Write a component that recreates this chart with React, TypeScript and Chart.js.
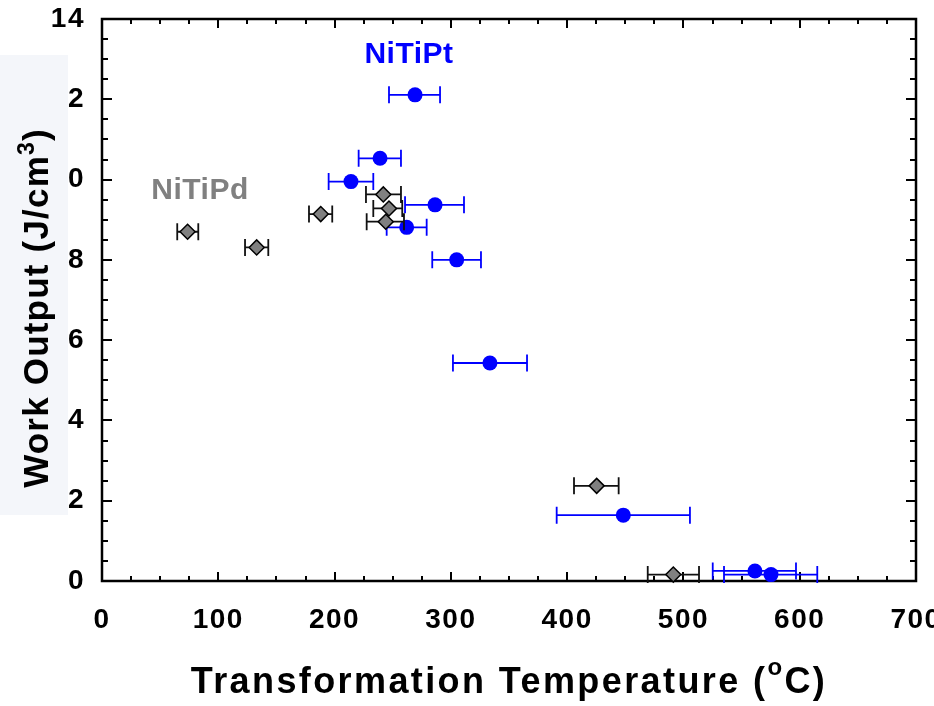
import React, { useEffect, useRef } from "react";
import { Chart, registerables } from "chart.js";

Chart.register(...registerables);

// ---------- data ----------
const ptTemp = [269.2, 239.1, 214.1, 286.4, 262.0, 305.0, 333.6, 448.3, 561.5, 575.3];
const ptWork = [12.11, 10.53, 9.95, 9.37, 8.81, 8.0, 5.43, 1.64, 0.25, 0.16];
const ptTempLow = [246.8, 220.7, 194.9, 260.6, 244.8, 284.0, 301.8, 391.0, 525.2, 534.9];
const ptTempHigh = [290.7, 257.1, 233.3, 311.3, 279.2, 325.9, 365.5, 505.6, 596.8, 615.1];

const pdTemp = [73.6, 133.0, 188.1, 241.9, 246.8, 244.0, 425.4, 491.3];
const pdWork = [8.7, 8.31, 9.14, 9.63, 9.28, 8.95, 2.37, 0.16];
const pdTempLow = [64.7, 123.0, 178.0, 227.0, 233.3, 227.6, 405.9, 469.3];
const pdTempHigh = [82.8, 143.0, 198.0, 257.1, 258.2, 259.7, 444.3, 513.4];

const xTickValues = [0, 100, 200, 300, 400, 500, 600, 700];
const yTickValues = [0, 2, 4, 6, 8, 10, 12, 14];
const yTickLabels = ["0", "2", "4", "6", "8", "0", "2", "14"];
const xMinorStep = 25;
const yMinorStep = 0.5;

const seriesNames = ["NiTiPd", "NiTiPt"];
const seriesLabelX = [84.3, 264.0];
const seriesLabelY = [9.51, 12.9];

const xTitleMain = "Transformation Temperature (";
const xTitleSup = "o";
const xTitleEnd = "C)";
const yTitleMain = "Work Output (J/cm";
const yTitleSup = "3";
const yTitleEnd = ")";

// ---------- style ----------
const FONT = '"Liberation Sans", Arial, Helvetica, sans-serif';
const BLUE = "#0000ff";
const GRAY = "#808080";

type Seg = { text: string; size: number; rise: number };

function segWidth(ctx: CanvasRenderingContext2D, segs: Seg[], spacing: number) {
  let w = 0;
  for (const s of segs) {
    ctx.font = `bold ${s.size}px ${FONT}`;
    (ctx as any).letterSpacing = spacing + "px";
    w += ctx.measureText(s.text).width;
  }
  return w;
}

function drawSegs(ctx: CanvasRenderingContext2D, segs: Seg[], spacing: number, x: number, y: number) {
  let cx = x;
  for (const s of segs) {
    ctx.font = `bold ${s.size}px ${FONT}`;
    (ctx as any).letterSpacing = spacing + "px";
    ctx.fillText(s.text, cx, y - s.rise);
    cx += ctx.measureText(s.text).width;
  }
}

const errLow = [pdTempLow, ptTempLow];
const errHigh = [pdTempHigh, ptTempHigh];
const errColor = ["#111111", BLUE];
const errWidth = [1.8, 1.8];
const capHalf = [8.5, 8.5];

const decorPlugin = {
  id: "decor",
  beforeDraw(chart: any) {
    const ctx = chart.ctx as CanvasRenderingContext2D;
    ctx.save();
    ctx.fillStyle = "#ffffff";
    ctx.fillRect(0, 0, chart.width, chart.height);
    // pale patch behind the y title
    ctx.fillStyle = "#f4f6fa";
    ctx.fillRect(0, 55, 68, 460);
    ctx.restore();
    (ctx as any).letterSpacing = "1.5px";
  },
  beforeDatasetsDraw(chart: any) {
    const ctx = chart.ctx as CanvasRenderingContext2D;
    const xs = chart.scales.x;
    const ys = chart.scales.y;
    const { left, right, top, bottom } = chart.chartArea;
    ctx.save();
    ctx.strokeStyle = "#000";
    ctx.lineWidth = 2;
    ctx.lineCap = "butt";
    ctx.beginPath();
    for (let v = xs.min; v <= xs.max + 1e-9; v += xMinorStep) {
      const px = Math.round(xs.getPixelForValue(v));
      const len = v % 100 === 0 ? 9 : 5;
      ctx.moveTo(px, bottom);
      ctx.lineTo(px, bottom - len);
      ctx.moveTo(px, top);
      ctx.lineTo(px, top + len);
    }
    for (let v = ys.min; v <= ys.max + 1e-9; v += yMinorStep) {
      const py = Math.round(ys.getPixelForValue(v));
      const len = Math.abs(v % 2) < 1e-9 ? 10 : 6;
      ctx.moveTo(left, py);
      ctx.lineTo(left + len, py);
      ctx.moveTo(right, py);
      ctx.lineTo(right - len, py);
    }
    ctx.stroke();
    ctx.lineWidth = 2.5;
    ctx.strokeRect(left, top, right - left, bottom - top);
    ctx.restore();
  },
  beforeDatasetDraw(chart: any, args: any) {
    const i = args.index;
    const ctx = chart.ctx as CanvasRenderingContext2D;
    const xs = chart.scales.x;
    const ys = chart.scales.y;
    const ds = chart.data.datasets[i];
    ctx.save();
    ctx.strokeStyle = errColor[i];
    ctx.lineWidth = errWidth[i];
    ctx.beginPath();
    ds.data.forEach((p: any, k: number) => {
      const py = ys.getPixelForValue(p.y);
      const x1 = xs.getPixelForValue(errLow[i][k]);
      const x2 = xs.getPixelForValue(errHigh[i][k]);
      ctx.moveTo(x1, py);
      ctx.lineTo(x2, py);
      ctx.moveTo(x1, py - capHalf[i]);
      ctx.lineTo(x1, py + capHalf[i]);
      ctx.moveTo(x2, py - capHalf[i]);
      ctx.lineTo(x2, py + capHalf[i]);
    });
    ctx.stroke();
    ctx.restore();
  },
  afterDraw(chart: any) {
    const ctx = chart.ctx as CanvasRenderingContext2D;
    const xs = chart.scales.x;
    const ys = chart.scales.y;
    const { left, right, top, bottom } = chart.chartArea;
    ctx.save();
    ctx.fillStyle = "#000";
    ctx.textAlign = "left";
    ctx.textBaseline = "alphabetic";
    // x title
    const xSegs: Seg[] = [
      { text: xTitleMain, size: 36, rise: 0 },
      { text: xTitleSup, size: 24, rise: 18 },
      { text: xTitleEnd, size: 36, rise: 0 },
    ];
    const xw = segWidth(ctx, xSegs, 2.4);
    drawSegs(ctx, xSegs, 2.4, (left + right) / 2 - xw / 2, bottom + 112);
    // y title
    const ySegs: Seg[] = [
      { text: yTitleMain, size: 35, rise: 0 },
      { text: yTitleSup, size: 23, rise: 14 },
      { text: yTitleEnd, size: 35, rise: 0 },
    ];
    const yw = segWidth(ctx, ySegs, 1.2);
    ctx.save();
    ctx.translate(48, (top + bottom) / 2 + 8);
    ctx.rotate(-Math.PI / 2);
    drawSegs(ctx, ySegs, 1.2, -yw / 2, 0);
    ctx.restore();
    // series labels
    const colors = [GRAY, BLUE];
    seriesNames.forEach((name, i) => {
      ctx.font = `bold 30px ${FONT}`;
      (ctx as any).letterSpacing = "0.5px";
      ctx.fillStyle = colors[i];
      ctx.textAlign = "center";
      ctx.fillText(name, xs.getPixelForValue(seriesLabelX[i]), ys.getPixelForValue(seriesLabelY[i]));
    });
    ctx.restore();
    (ctx as any).letterSpacing = "0px";
  },
};

export default function App() {
  const ref = useRef<HTMLCanvasElement>(null);
  useEffect(() => {
    if (!ref.current) return;
    const chart = new Chart(ref.current, {
      type: "scatter",
      data: {
        datasets: [
          {
            label: seriesNames[0],
            data: pdTemp.map((t, i) => ({ x: t, y: pdWork[i] })),
            pointStyle: "rectRot",
            pointRadius: 7.5,
            pointBackgroundColor: GRAY,
            pointBorderColor: "#000",
            pointBorderWidth: 1.5,
            clip: false,
          } as any,
          {
            label: seriesNames[1],
            data: ptTemp.map((t, i) => ({ x: t, y: ptWork[i] })),
            pointStyle: "circle",
            pointRadius: 7.5,
            pointBackgroundColor: BLUE,
            pointBorderColor: BLUE,
            pointBorderWidth: 0,
            clip: false,
          } as any,
        ],
      },
      options: {
        responsive: false,
        animation: false,
        devicePixelRatio: 1,
        layout: { padding: { left: 0, top: 19, right: 18, bottom: 0 } },
        plugins: {
          legend: { display: false },
          tooltip: { enabled: false },
        },
        scales: {
          x: {
            type: "linear",
            min: 0,
            max: 700,
            afterBuildTicks: (s: any) => {
              s.ticks = xTickValues.map((v) => ({ value: v }));
            },
            afterFit: (s: any) => {
              s.height = 125;
              s.paddingLeft = 0;
              s.paddingRight = 0;
            },
            ticks: {
              autoSkip: false,
              maxRotation: 0,
              padding: 22,
              color: "#000",
              font: { family: FONT, size: 28, weight: "bold" },
              callback: (v: any) => String(v),
            },
            grid: { display: false, drawTicks: false },
            border: { display: false },
            title: { display: false },
          },
          y: {
            type: "linear",
            min: 0,
            max: 14,
            afterBuildTicks: (s: any) => {
              s.ticks = yTickValues.map((v) => ({ value: v }));
            },
            afterFit: (s: any) => {
              s.width = 102;
              s.paddingTop = 0;
              s.paddingBottom = 0;
            },
            ticks: {
              autoSkip: false,
              padding: 17,
              color: "#000",
              font: { family: FONT, size: 28, weight: "bold" },
              callback: (v: any) => {
                const k = yTickValues.indexOf(Number(v));
                return k >= 0 ? yTickLabels[k] : "";
              },
            },
            grid: { display: false, drawTicks: false },
            border: { display: false },
            title: { display: false },
          },
        },
      } as any,
      plugins: [decorPlugin as any],
    });
    return () => chart.destroy();
  }, []);
  return (
    <div style={{ position: "fixed", left: 0, top: 0, width: 934, height: 706, background: "#fff" }}>
      <canvas ref={ref} width={934} height={706} style={{ display: "block", width: 934, height: 706 }} />
    </div>
  );
}
